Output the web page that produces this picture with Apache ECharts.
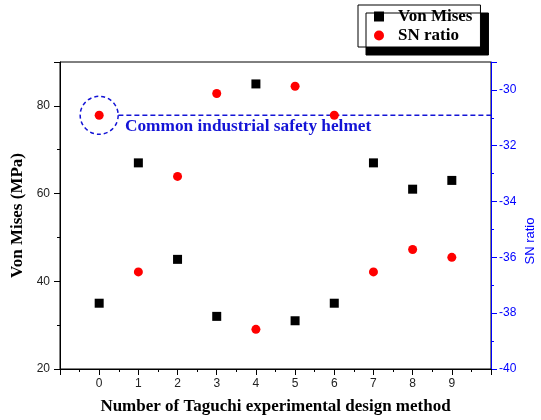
<!DOCTYPE html>
<html>
<head>
<meta charset="utf-8">
<script src="https://cdn.jsdelivr.net/npm/echarts@6/dist/echarts.min.js"></script>
<style>html,body{margin:0;padding:0;background:#fff}#c{width:541px;height:420px}</style>
</head>
<body>
<div id="c"></div>
<script>
var runs = [0, 1, 2, 3, 4, 5, 6, 7, 8, 9];
var vonMises = [35, 67, 45, 32, 85, 31, 35, 67, 61, 63];
var snRatio = [-30.91, -36.52, -33.1, -30.13, -38.58, -29.87, -30.91, -36.52, -35.72, -36.0];
var xTickLabels = ['0', '1', '2', '3', '4', '5', '6', '7', '8', '9'];
var helmetRun = 0;
var helmetSN = -30.91;
var helmetLabel = 'Common industrial safety helmet';

var chart = echarts.init(document.getElementById('c'), null, {renderer: 'canvas'});
var serif = '"Liberation Serif", "Times New Roman", serif';
var sans = '"Liberation Sans", Arial, sans-serif';
var blue = '#1414d6';

chart.setOption({
  animation: false,
  backgroundColor: '#fff',
  grid: {left: 60, right: 50, top: 62, bottom: 51, show: true, borderColor: '#000', borderWidth: 1, backgroundColor: 'transparent'},
  legend: {
    left: 358, top: 5, orient: 'vertical',
    padding: [3, 8, 3, 16], itemGap: 2, itemWidth: 10, itemHeight: 10,
    backgroundColor: '#fff', borderColor: '#000', borderWidth: 1,
    shadowColor: '#000', shadowOffsetX: 8, shadowOffsetY: 8, shadowBlur: 0.01,
    itemStyle: {opacity: 1},
    textStyle: {fontFamily: serif, fontWeight: 'bold', fontSize: 17, color: '#000', padding: [0, 0, 0, 9]},
    data: [{name: 'Von Mises', icon: 'rect'}, {name: 'SN ratio', icon: 'circle'}]
  },
  xAxis: {
    type: 'value', min: -1, max: 10, interval: 1,
    name: 'Number of Taguchi experimental design method', nameLocation: 'middle', nameGap: 29,
    nameTextStyle: {fontFamily: serif, fontWeight: 'bold', fontSize: 17, color: '#000'},
    axisLine: {onZero: false, lineStyle: {color: '#000', width: 1}},
    axisTick: {show: true, inside: false, length: 6, lineStyle: {color: '#000'}},
    minorTick: {show: true, splitNumber: 2, length: 3, lineStyle: {color: '#000'}},
    axisLabel: {fontFamily: sans, fontSize: 12, color: '#222', margin: 9,
      formatter: function (v) { var i = xTickLabels.indexOf(String(v)); return i >= 0 ? xTickLabels[i] : ''; }},
    splitLine: {show: false}
  },
  yAxis: [{
    type: 'value', min: 20, max: 90, interval: 20, position: 'left',
    name: 'Von Mises (MPa)', nameLocation: 'middle', nameGap: 34,
    nameTextStyle: {fontFamily: serif, fontWeight: 'bold', fontSize: 17, color: '#000'},
    axisLine: {show: true, onZero: false, lineStyle: {color: '#000', width: 1}},
    axisTick: {show: true, inside: false, length: 6, lineStyle: {color: '#000'}},
    minorTick: {show: true, splitNumber: 2, length: 3, lineStyle: {color: '#000'}},
    axisLabel: {fontFamily: sans, fontSize: 12, color: '#222', margin: 10, showMaxLabel: false},
    splitLine: {show: false}
  }, {
    type: 'value', min: -40, max: -29, interval: 2, position: 'right',
    axisLine: {show: true, onZero: false, lineStyle: {color: '#0000ff', width: 1}},
    axisTick: {show: true, inside: false, length: 6, lineStyle: {color: '#0000ff'}},
    minorTick: {show: true, splitNumber: 2, length: 3, lineStyle: {color: '#0000ff'}},
    axisLabel: {fontFamily: sans, fontSize: 12, color: '#0000ff', margin: 8, showMaxLabel: false},
    splitLine: {show: false}
  }],
  graphic: [
    {type: 'text', left: 125, top: 118, style: {text: helmetLabel, font: 'bold 17.3px ' + serif, fill: blue}},
    {type: 'text', x: 530, y: 241, rotation: Math.PI / 2, style: {text: 'SN ratio', font: '13px ' + sans, fill: '#0000ff', textAlign: 'center', textVerticalAlign: 'middle'}}
  ],
  series: [
    {name: 'Von Mises', type: 'scatter', yAxisIndex: 0, symbol: 'rect', symbolSize: 9,
      itemStyle: {color: '#000', opacity: 1}, data: runs.map(function (r, i) { return [r, vonMises[i]]; })},
    {name: 'SN ratio', type: 'scatter', yAxisIndex: 1, symbol: 'circle', symbolSize: 9,
      itemStyle: {color: '#ff0000', opacity: 1}, data: runs.map(function (r, i) { return [r, snRatio[i]]; })},
    {name: 'helmet-circle', type: 'scatter', yAxisIndex: 1, symbol: 'circle', symbolSize: 38, silent: true,
      itemStyle: {color: 'transparent', borderColor: blue, borderWidth: 1.5, borderType: [4, 3], opacity: 1},
      data: [[helmetRun, helmetSN]], z: 1},
    {name: 'helmet-line', type: 'line', yAxisIndex: 1, showSymbol: false, silent: true,
      lineStyle: {color: blue, width: 1.5, type: [5, 3]},
      data: [[helmetRun + 0.49, helmetSN], [10, helmetSN]], z: 1}
  ]
});
</script>
</body>
</html>
